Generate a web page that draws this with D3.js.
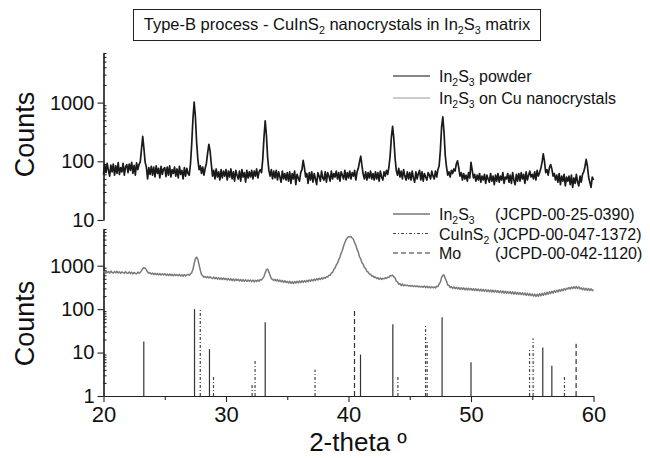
<!DOCTYPE html>
<html>
<head>
<meta charset="utf-8">
<script src="https://cdnjs.cloudflare.com/ajax/libs/d3/7.8.5/d3.min.js"></script>
<style>
  html, body { margin: 0; padding: 0; background: #fff; }
  svg { display: block; font-family: "Liberation Sans", Arial, sans-serif; }
</style>
</head>
<body>
<svg></svg>
<script>
// scan grid: 20.0 .. 60.0 deg, 0.1 deg step
const thetaStart = 20
const thetaStep = 0.1

// In2S3 powder (top panel), one row per degree
const powderCounts = [
  60,88,64,92,70,56,86,66,90,58,
  84,62,95,60,78,66,92,58,80,88,
  64,90,70,96,62,85,58,94,72,88,
  98,160,265,165,96,80,50,78,60,82,
  58,80,54,84,62,76,52,82,60,74,
  78,55,80,58,84,54,72,62,80,56,
  74,52,82,60,70,50,78,56,76,62,
  58,90,195,520,1020,580,215,110,72,84,
  62,80,58,76,92,138,195,150,90,56,
  70,50,74,54,66,48,72,52,68,56,
  72,48,68,54,74,50,66,46,70,58,
  50,68,46,72,54,64,44,70,52,66,
  54,70,50,68,56,74,52,66,72,64,
  108,255,490,275,115,70,56,72,50,68,
  52,70,48,66,54,44,68,50,62,48,
  64,46,66,42,62,50,68,40,60,52,
  46,64,72,104,78,54,62,42,64,48,
  66,44,62,50,40,64,56,46,68,52,
  48,66,44,64,56,46,68,50,62,54,
  68,50,64,46,66,58,50,70,48,64,
  52,68,50,64,56,70,48,66,76,98,
  122,84,60,50,66,48,64,52,68,50,
  62,48,66,50,64,46,68,54,48,66,
  56,70,60,80,125,255,395,245,115,70,
  58,76,54,68,50,72,56,48,66,50,
  64,48,68,52,44,66,50,62,70,48,
  66,46,62,54,48,64,58,50,68,56,
  50,68,54,72,84,155,385,570,305,125,
  80,58,66,54,70,62,74,68,90,102,
  78,56,64,48,62,50,58,46,64,52,
  96,70,52,60,46,58,48,62,44,56,
  48,60,42,58,50,44,62,46,56,40,
  58,46,62,44,56,48,64,42,54,50,
  62,44,58,42,64,48,40,60,46,62,
  46,64,50,60,42,66,48,58,68,54,
  60,50,66,48,70,56,64,76,96,134,
  100,64,72,58,78,88,74,56,62,48,
  58,44,62,40,56,46,60,38,54,46,
  56,40,58,36,52,42,60,44,38,56,
  44,60,66,80,108,84,54,44,36,54,
  48
]

// In2S3 on Cu nanocrystals (bottom panel)
const cuCounts = [
  740,700,755,690,735,680,750,700,675,730,
  690,740,680,725,670,720,690,665,730,680,
  670,720,660,705,655,700,665,650,710,670,
  700,770,860,905,870,800,715,670,690,640,
  680,630,670,620,665,615,660,610,655,615,
  650,600,640,595,645,590,635,585,630,595,
  625,585,630,580,615,575,625,580,615,630,
  600,650,690,830,1110,1450,1570,1400,1060,790,
  630,590,545,565,530,560,520,555,525,505,
  545,500,535,490,530,485,525,480,520,480,
  510,470,505,465,500,455,495,450,490,460,
  485,445,480,440,478,435,475,435,470,440,
  468,430,465,425,462,432,470,440,480,470,
  510,560,690,810,835,720,600,500,490,455,
  485,445,480,435,465,425,458,415,450,410,
  435,398,438,392,428,388,432,398,438,402,
  445,408,450,412,455,418,460,428,470,438,
  480,448,490,458,505,470,515,482,525,492,
  535,515,560,545,605,600,680,700,820,880,
  1040,1140,1370,1580,1930,2270,2840,3360,4000,4350,
  4650,4650,4700,4350,4050,3400,2950,2350,2050,1600,
  1430,1170,1080,900,860,740,715,640,635,575,
  585,535,550,505,525,488,518,485,512,498,
  530,508,545,540,590,590,605,550,525,440,
  425,375,385,350,378,345,362,348,357,340,
  352,335,350,332,345,328,342,325,338,322,
  336,318,340,316,334,312,330,308,328,310,
  325,308,335,330,380,420,540,600,610,510,
  440,360,350,315,328,300,325,296,320,292,
  315,285,312,282,308,280,305,276,302,278,
  298,272,296,268,294,266,290,262,288,260,
  284,256,282,254,278,250,276,248,272,246,
  270,244,266,240,264,238,262,234,258,232,
  254,230,252,226,250,222,248,220,244,218,
  240,216,238,212,236,208,232,206,228,204,
  224,200,222,196,220,198,226,202,232,208,
  238,214,245,220,252,228,258,234,265,244,
  272,250,280,258,288,266,295,274,302,292,
  315,290,322,298,328,300,330,298,325,292,
  308,280,306,275,302,272,298,268,294,266,
  282
]

// reference patterns (stick positions and relative intensities)
const in2s3Theta = [23.29, 27.43, 28.65, 33.2, 40.98, 43.62, 47.64, 50.0, 55.86, 56.6]
const in2s3Int = [18, 100, 12, 50, 9, 45, 65, 6, 13, 5]
const cuinsTheta = [27.9, 28.98, 32.13, 32.37, 37.27, 44.03, 46.29, 46.42, 54.78, 55.07, 57.63]
const cuinsInt = [100, 3, 2, 7, 4, 3, 41, 19, 12, 21, 3]
const moTheta = [40.49, 58.58]
const moInt = [100, 16]

const xTicks = [20, 30, 40, 50, 60]
const xMinor = [25, 35, 45, 55]
const topTicks = [10, 100, 1000]
const bottomTicks = [1, 10, 100, 1000]

const titleText = 'Type-B process - CuInS_2 nanocrystals in In_2S_3 matrix'
const sampleNames = ['In_2S_3 powder', 'In_2S_3 on Cu nanocrystals']
const refNames = ['In_2S_3', 'CuInS_2', 'Mo']
const refCards = ['(JCPD-00-25-0390)', '(JCPD-00-047-1372)', '(JCPD-00-042-1120)']

const width = 650
const height = 458
const svg = d3.select('svg')
  .attr('width', width)
  .attr('height', height)

const x = d3.scaleLinear().domain([20, 60]).range([103.5, 593.5])
const yTop = d3.scaleLog().domain([10, 7000]).range([220, 53])
const yBot = d3.scaleLog().domain([1, 7000]).range([396, 229])

const fmt = d3.format('d')
const minorOf = (lo, hi) => d3.range(Math.log10(lo), Math.log10(hi))
  .flatMap(p => d3.range(2, 10).map(k => k * Math.pow(10, p)))
  .filter(v => v <= hi)

// text with _n subscripts
const richText = (text, str, size) => {
  const off = size * 0.25
  let down = false
  str.split(/(_\d)/).filter(s => s.length).forEach(s => {
    const isSub = s[0] === '_'
    const t = text.append('tspan').text(isSub ? s.slice(1) : s)
    if (isSub) {
      t.attr('dy', off).attr('font-size', size * 0.65)
      down = true
    } else if (down) {
      t.attr('dy', -off)
      down = false
    }
  })
}

const styleAxis = g => {
  g.selectAll('path.domain').attr('stroke', '#222').attr('stroke-width', 1.2)
  g.selectAll('.tick line').attr('stroke', '#222').attr('stroke-width', 1.1)
  g.selectAll('text').attr('fill', '#111').attr('font-family', null)
}

// title box
svg.append('rect')
  .attr('x', 133.5).attr('y', 9.5)
  .attr('width', 407).attr('height', 31)
  .attr('fill', 'none').attr('stroke', '#222').attr('stroke-width', 1)
const title = svg.append('text')
  .attr('x', 337).attr('y', 30)
  .attr('text-anchor', 'middle')
  .attr('font-size', 16.5)
  .attr('fill', '#111')
richText(title, titleText, 16.5)

// left axes
const drawLeft = (scale, major, lo, hi) => {
  svg.append('g')
    .attr('transform', `translate(${x(20)},0)`)
    .call(d3.axisLeft(scale).tickValues(minorOf(lo, hi)).tickSize(-3).tickSizeOuter(0).tickFormat(''))
    .call(styleAxis)
  svg.append('g')
    .attr('transform', `translate(${x(20)},0)`)
    .call(d3.axisLeft(scale).tickValues(major).tickFormat(fmt).tickSize(6).tickSizeOuter(0).tickPadding(3))
    .call(g => g.selectAll('text').attr('font-size', 20))
    .call(styleAxis)
}
drawLeft(yTop, topTicks, 10, 7000)
drawLeft(yBot, bottomTicks, 1, 7000)

// bottom axis
svg.append('g')
  .attr('transform', `translate(0,${yBot(1)})`)
  .call(d3.axisBottom(x).tickValues(xMinor).tickSize(4).tickSizeOuter(0).tickFormat(''))
  .call(styleAxis)
svg.append('g')
  .attr('transform', `translate(0,${yBot(1)})`)
  .call(d3.axisBottom(x).tickValues(xTicks).tickFormat(fmt).tickSize(6).tickSizeOuter(0).tickPadding(4))
  .call(g => g.selectAll('text').attr('font-size', 22))
  .call(styleAxis)

// axis titles
svg.selectAll('text.ylab')
  .data([(yTop(10) + yTop(7000)) / 2 - 2, (yBot(1) + yBot(7000)) / 2 + 11])
  .join('text')
  .classed('ylab', true)
  .attr('transform', d => `translate(34,${d}) rotate(-90)`)
  .attr('text-anchor', 'middle')
  .attr('font-size', 27)
  .attr('fill', '#111')
  .text('Counts')

svg.append('text')
  .attr('x', 358).attr('y', 451)
  .attr('text-anchor', 'middle')
  .attr('font-size', 26)
  .attr('fill', '#111')
  .text('2-theta º')

// patterns
const lineTop = d3.line()
  .x((_, i) => x(thetaStart + i * thetaStep))
  .y(d => yTop(d))
const lineBot = d3.line()
  .x((_, i) => x(thetaStart + i * thetaStep))
  .y(d => yBot(d))

svg.append('path')
  .attr('d', lineBot(cuCounts))
  .attr('fill', 'none')
  .attr('stroke', '#7a7a7a')
  .attr('stroke-width', 1.5)
  .attr('stroke-linejoin', 'round')

svg.append('path')
  .attr('d', lineTop(powderCounts))
  .attr('fill', 'none')
  .attr('stroke', '#1a1a1a')
  .attr('stroke-width', 1.7)
  .attr('stroke-linejoin', 'round')

// reference sticks
const refs = [
  { theta: in2s3Theta, val: in2s3Int, dash: null, color: '#333' },
  { theta: cuinsTheta, val: cuinsInt, dash: '3,2,1,2', color: '#444' },
  { theta: moTheta, val: moInt, dash: '5,3', color: '#333' },
]

refs.forEach(r => {
  svg.append('g')
    .selectAll('line')
    .data(r.theta.map((t, i) => [t, r.val[i]]))
    .join('line')
    .attr('x1', d => x(d[0])).attr('x2', d => x(d[0]))
    .attr('y1', yBot(1)).attr('y2', d => yBot(d[1]))
    .attr('stroke', r.color)
    .attr('stroke-width', 1.2)
    .attr('stroke-dasharray', r.dash)
})

// legend for samples
const legA = svg.append('g')
  .selectAll('g')
  .data(sampleNames)
  .join('g')
  .attr('transform', (_, i) => `translate(393,${76 + i * 22})`)
legA.append('line')
  .attr('x1', 0).attr('x2', 37)
  .attr('stroke', (_, i) => i ? '#999' : '#111')
  .attr('stroke-width', 1.2)
legA.append('text')
  .attr('x', 46).attr('y', 6)
  .attr('font-size', 16)
  .attr('fill', '#111')
  .each(function(d) { richText(d3.select(this), d, 16) })

// legend for reference cards
const legB = svg.append('g')
  .selectAll('g')
  .data(refNames)
  .join('g')
  .attr('transform', (_, i) => `translate(393,${214 + i * 19.5})`)
legB.append('line')
  .attr('x1', 0).attr('x2', 37)
  .attr('stroke', (_, i) => refs[i].color)
  .attr('stroke-width', 1.2)
  .attr('stroke-dasharray', (_, i) => refs[i].dash)
legB.append('text')
  .attr('x', 46).attr('y', 6)
  .attr('font-size', 16)
  .attr('fill', '#111')
  .each(function(d) { richText(d3.select(this), d, 16) })
legB.append('text')
  .attr('x', (_, i) => i === 1 ? 100 : 102).attr('y', 6)
  .attr('font-size', 16)
  .attr('fill', '#111')
  .text((_, i) => refCards[i])
</script>
</body>
</html>
